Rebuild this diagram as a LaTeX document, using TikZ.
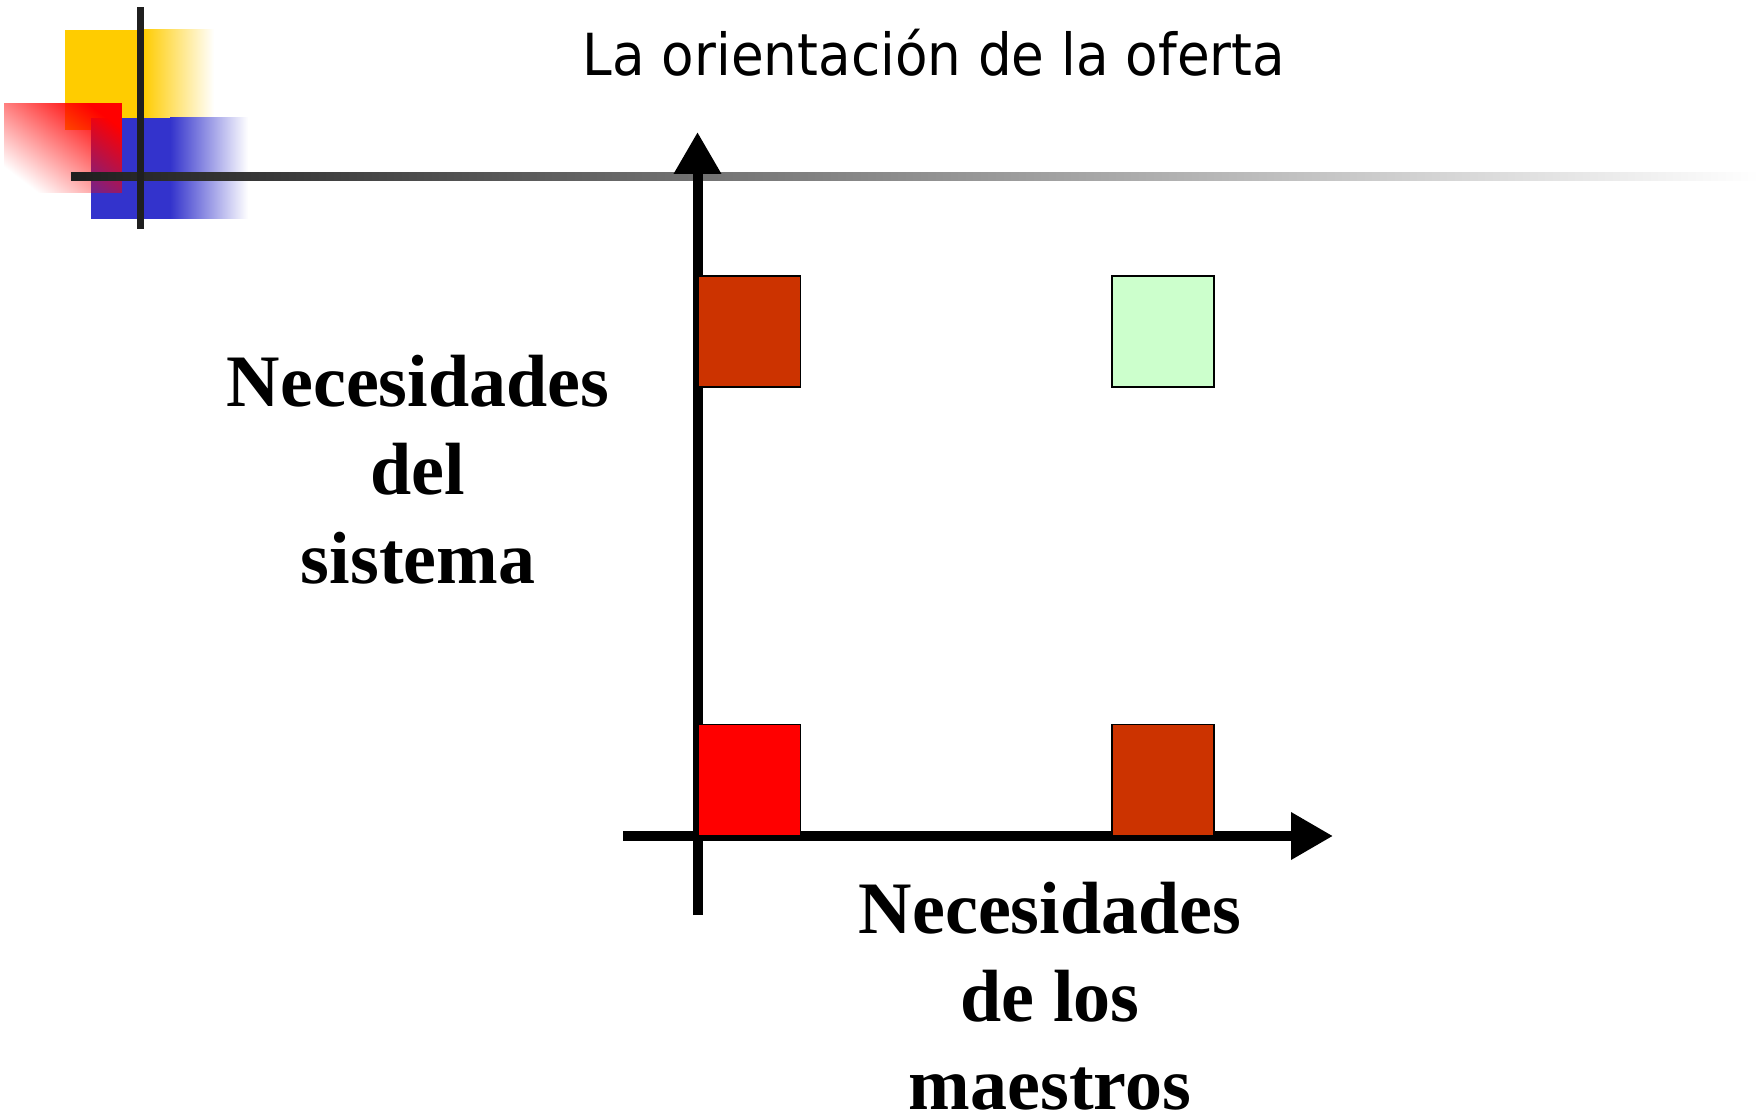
\documentclass[tikz,border=0pt]{standalone}
\usepackage{fontspec}
\setmainfont{Liberation Serif}
\newfontfamily\titlefont{DejaVu Sans}
\usetikzlibrary{arrows.meta,fadings}
\definecolor{brickred}{HTML}{CC3300}
\definecolor{paleGreen}{HTML}{CCFFCC}
\definecolor{decoYellow}{HTML}{FFCC00}
\definecolor{decoBlue}{HTML}{3333CC}
\definecolor{decoRed}{HTML}{FF0000}
\tikzfading[name=redfade, left color=transparent!100, right color=transparent!0]
\begin{document}
\begin{tikzpicture}[x=1pt,y=-1pt,
  cell/.style={draw=black, line width=1.5pt, minimum width=102pt, minimum height=111pt, inner sep=0pt},
  axis/.style={line width=10pt, -{Triangle[length=42pt,width=45pt]}},
  lab/.style={font=\bfseries\fontsize{74}{88}\selectfont, anchor=base, inner sep=0pt},
]
\useasboundingbox (0,0) rectangle (1759,1118);
% decoration
\fill[decoYellow] (65,30) rectangle (144,130);
\shade[left color=decoYellow, right color=white] (143,30) rectangle (214,130);
\fill[decoBlue] (91,118) rectangle (171,219);
\shade[left color=decoBlue, right color=white] (170,118) rectangle (248,219);
\fill[decoRed, path fading=redfade, fading angle=45, fit fading=true] (4,103) rectangle (122,193);
\shade[left color=black!88, right color=white] (71,173) rectangle (1759,181);
\fill[black!88] (137,7) rectangle (144,229);
% title
\node[anchor=base, inner sep=0pt, font=\titlefont\fontsize{58}{70}\selectfont] (title) at (934,76) {\scalebox{0.917}[1]{La orientación de la oferta}};
% axes
\coordinate (yaxisbot) at (697.5,915);
\coordinate (yaxistop) at (697.5,132);
\coordinate (xaxisleft) at (623,836);
\coordinate (xaxisright) at (1333,836);
\draw[axis] (yaxisbot) -- (yaxistop);
\draw[axis] (xaxisleft) -- (xaxisright);
% boxes
\node[cell, fill=brickred] (tl) at (749.5,331.5) {};
\node[cell, fill=paleGreen] (tr) at (1163,331.5) {};
\node[cell, fill=red] (bl) at (749.5,780) {};
\node[cell, fill=brickred] (br) at (1163,780) {};
% labels
\node[lab] (ylab1) at (418,406) {Necesidades};
\node[lab] (ylab2) at (418,494.5) {del};
\node[lab] (ylab3) at (418,583) {sistema};
\node[lab] (xlab1) at (1050,933) {Necesidades};
\node[lab] (xlab2) at (1050,1021) {de los};
\node[lab] (xlab3) at (1050,1109) {maestros};
\end{tikzpicture}
\end{document}
